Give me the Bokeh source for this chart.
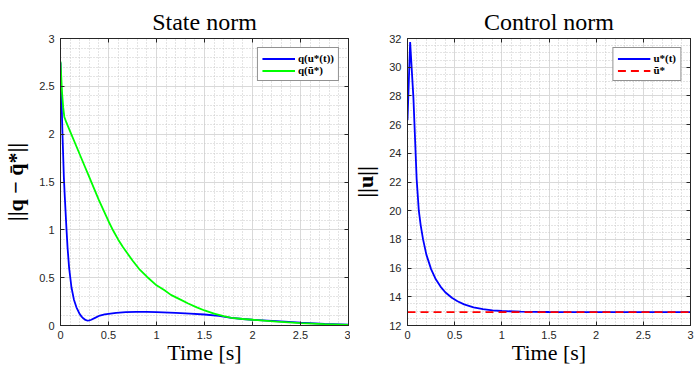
from bokeh.plotting import figure
from bokeh.models import FixedTicker, LinearAxis, Range1d, Legend, LegendItem
from bokeh.layouts import row
from bokeh.embed import file_html
from bokeh.resources import INLINE

# ---- data ----
t_state_opt = [0, 0.01, 0.02, 0.035, 0.045, 0.06, 0.073, 0.09, 0.114, 0.14, 0.166, 0.2, 0.22,
               0.24, 0.26, 0.277, 0.3, 0.32, 0.36, 0.41, 0.46, 0.5, 0.58, 0.68, 0.79, 0.9, 1.0,
               1.2, 1.35, 1.5, 1.65, 1.78, 1.9, 2.0, 2.25, 2.5, 2.75, 3.0]
state_opt = [2.75, 2.39, 2.02, 1.55, 1.34, 1.05, 0.82, 0.6, 0.40, 0.27, 0.19, 0.12, 0.093,
             0.073, 0.058, 0.052, 0.053, 0.06, 0.08, 0.104, 0.116, 0.122, 0.133, 0.14, 0.143,
             0.142, 0.14, 0.133, 0.125, 0.115, 0.1, 0.08, 0.068, 0.06, 0.045, 0.03, 0.018, 0.008]

t_state_bar = [0, 0.015, 0.028, 0.04, 0.062, 0.1, 0.15, 0.2, 0.25, 0.3, 0.35, 0.4, 0.45, 0.5,
               0.55, 0.6, 0.65, 0.7, 0.75, 0.82, 0.9, 1.0, 1.08, 1.15, 1.25, 1.33, 1.42, 1.5,
               1.6, 1.7, 1.78, 1.9, 2.0, 2.25, 2.5, 2.75, 3.0]
state_bar = [2.76, 2.45, 2.28, 2.18, 2.12, 2.03, 1.91, 1.79, 1.67, 1.55, 1.43, 1.31, 1.2, 1.09,
             0.99, 0.9, 0.82, 0.75, 0.68, 0.59, 0.51, 0.42, 0.37, 0.32, 0.27, 0.23, 0.19, 0.157,
             0.125, 0.098, 0.08, 0.068, 0.06, 0.04, 0.025, 0.014, 0.005]

t_ctrl = [0, 0.028, 0.0625, 0.097, 0.12, 0.14, 0.165, 0.2, 0.25, 0.3, 0.35, 0.4, 0.47, 0.53,
          0.6, 0.7, 0.8, 0.9, 1.0, 1.2, 1.5, 2.0, 2.5, 3.0]
ctrl_opt = [26.3, 31.75, 27.9, 22.2, 20.0, 18.98, 18.0, 16.94, 15.93, 15.22, 14.71, 14.32,
            13.93, 13.69, 13.47, 13.27, 13.14, 13.06, 13.01, 12.96, 12.94, 12.93, 12.93, 12.93]

t_ctrl_bar = [0, 3]
ctrl_bar = [12.93, 12.93]

x_ticks = [0, 0.5, 1, 1.5, 2, 2.5, 3]
x_tick_labels = ["0", "0.5", "1", "1.5", "2", "2.5", "3"]
y1_ticks = [0, 0.5, 1, 1.5, 2, 2.5, 3]
y1_tick_labels = ["0", "0.5", "1", "1.5", "2", "2.5", "3"]
y2_ticks = [12, 14, 16, 18, 20, 22, 24, 26, 28, 30, 32]
y2_tick_labels = ["12", "14", "16", "18", "20", "22", "24", "26", "28", "30", "32"]

x_minor = [round(i * 0.1, 2) for i in range(31)]
y1_minor = [round(i * 0.1, 2) for i in range(31)]
y2_minor = [round(12 + i * 0.5, 2) for i in range(41)]

AX = "#262626"
SERIF = "Liberation Serif"
SANS = "Liberation Sans"


def make_fig(title, width, left, right, xr, yr):
    p = figure(width=width, height=368, output_backend="svg", toolbar_location=None,
               x_range=Range1d(*xr), y_range=Range1d(*yr),
               min_border_left=left, min_border_right=right,
               min_border_top=38, min_border_bottom=43)
    p.title.text = title
    p.title.text_font = SERIF
    p.title.text_font_size = "24px"
    p.title.text_font_style = "normal"
    p.title.text_color = "#000000"
    p.title.align = "center"
    p.title.standoff = 8
    p.outline_line_color = AX
    p.outline_line_width = 1
    p.outline_line_alpha = 1
    p.background_fill_color = "white"
    p.border_fill_color = "white"
    return p


def box_axis(ticks):
    return LinearAxis(ticker=FixedTicker(ticks=ticks), major_label_text_font_size="1px",
                      major_label_text_color=None,
                      major_tick_in=4, major_tick_out=0, minor_tick_in=0, minor_tick_out=0,
                      major_label_standoff=0, axis_line_color=AX, major_tick_line_color=AX)


def style(p, yt, ylab, yminor, xlabel, ylabel):
    for ax in (p.xaxis[0], p.yaxis[0]):
        ax.major_tick_in = 4
        ax.major_tick_out = 0
        ax.minor_tick_in = 0
        ax.minor_tick_out = 0
        ax.major_tick_line_color = AX
        ax.axis_line_color = AX
        ax.major_label_text_font = SANS
        ax.major_label_text_font_size = "11px"
        ax.major_label_text_color = AX
        ax.axis_label_text_font = SERIF
        ax.axis_label_text_font_size = "22px"
        ax.axis_label_text_font_style = "normal"
        ax.axis_label_text_color = "#000000"
    p.yaxis[0].axis_label_text_font_style = "bold"
    p.xaxis[0].ticker = FixedTicker(ticks=x_ticks, minor_ticks=x_minor)
    p.xaxis[0].major_label_overrides = {t: l for t, l in zip(x_ticks, x_tick_labels)}
    p.yaxis[0].ticker = FixedTicker(ticks=yt, minor_ticks=yminor)
    p.yaxis[0].major_label_overrides = {t: l for t, l in zip(yt, ylab)}
    p.xaxis[0].axis_label = xlabel
    p.yaxis[0].axis_label = ylabel
    p.xaxis[0].major_label_standoff = 5
    p.xaxis[0].axis_label_standoff = -2
    p.yaxis[0].major_label_standoff = 6
    p.yaxis[0].axis_label_standoff = 8

    p.xgrid.grid_line_color = "#d9d9d9"
    p.ygrid.grid_line_color = "#d9d9d9"
    p.xgrid.minor_grid_line_color = "#c8c8c8"
    p.ygrid.minor_grid_line_color = "#c8c8c8"
    p.xgrid.minor_grid_line_dash = "1 2"
    p.ygrid.minor_grid_line_dash = "1 2"
    p.xgrid.minor_grid_line_width = 1
    p.ygrid.minor_grid_line_width = 1

    p.add_layout(box_axis(yt), "right")
    p.add_layout(box_axis(x_ticks), "above")


def add_legend(p, items):
    lg = Legend(items=items, location="top_right")
    lg.label_text_font = SERIF
    lg.label_text_font_size = "11px"
    lg.label_text_font_style = "bold"
    lg.label_text_color = "#000000"
    lg.glyph_width = 33
    lg.glyph_height = 11
    lg.label_height = 11
    lg.label_standoff = 3
    lg.padding = 4
    lg.spacing = 0
    lg.margin = 9
    lg.border_line_color = AX
    lg.border_line_width = 1
    lg.background_fill_color = "white"
    lg.background_fill_alpha = 1
    p.add_layout(lg)


# ---- left: state norm ----
p1 = make_fig("State norm", 350, 59, 2, (0, 3), (0, 3))
style(p1, y1_ticks, y1_tick_labels, y1_minor, "Time [s]", "||q \u2212 q\u0304*||")
r_opt = p1.line(t_state_opt, state_opt, line_color="#0000ff", line_width=1.8)
r_bar = p1.line(t_state_bar, state_bar, line_color="#00ff00", line_width=1.8)
add_legend(p1, [LegendItem(label="q(u*(t))", renderers=[r_opt]),
                LegendItem(label="q(\u016b*)", renderers=[r_bar])])

# ---- right: control norm ----
p2 = make_fig("Control norm", 344, 52, 4, (0, 3), (12, 32))
style(p2, y2_ticks, y2_tick_labels, y2_minor, "Time [s]", "||u||")
r_u = p2.line(t_ctrl, ctrl_opt, line_color="#0000ff", line_width=1.8)
r_ub = p2.line(t_ctrl_bar, ctrl_bar, line_color="#ff0000", line_width=1.8, line_dash="8 5")
add_legend(p2, [LegendItem(label="u*(t)", renderers=[r_u]),
                LegendItem(label="\u016b*", renderers=[r_ub])])

layout = row(p1, p2)
open("out.html", "w").write(file_html(layout, INLINE))
